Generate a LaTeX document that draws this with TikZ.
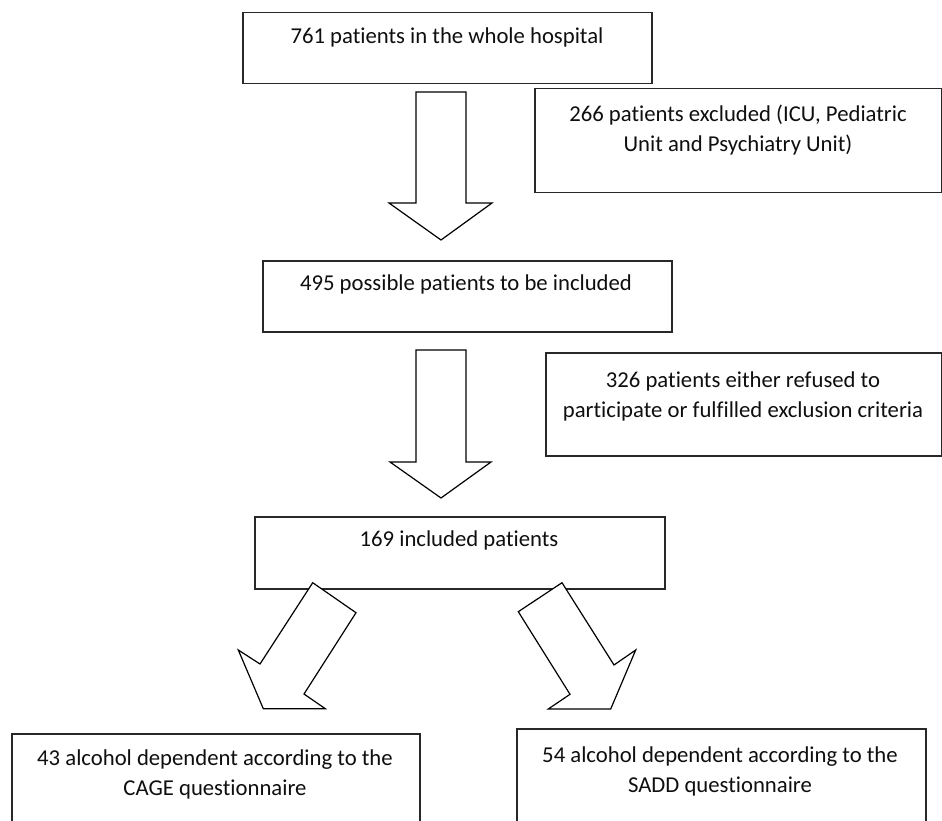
\documentclass[tikz,border=0pt]{standalone}
\usepackage{fontspec}
\setmainfont{Carlito}[RawFeature={-liga;-clig;-dlig;-calt}]
\definecolor{boxline}{RGB}{40,40,40}
\definecolor{txtcol}{RGB}{15,15,15}
\begin{document}
\begin{tikzpicture}[x=1pt,y=-1pt,
  boxr/.style={draw=boxline, line width=1.5pt, fill=white, anchor=north west, inner sep=0pt},
  txt/.style={font=\fontsize{22.7}{30}\selectfont, align=center, inner sep=0pt, text=txtcol},
  bigarrow/.style={draw=black, line width=1.2pt, fill=white, line join=miter}]
\useasboundingbox (0,0) rectangle (942,821);
\clip (0,0) rectangle (942,821);
\fill[white] (0,0) rectangle (942,821);

% boxes
\node[boxr, minimum width=409pt, minimum height=71pt] (b1) at (242,12) {};
\node[boxr, minimum width=407pt, minimum height=104pt] (b2) at (534,88) {};
\node[boxr, minimum width=409pt, minimum height=71pt] (b3) at (262,260) {};
\node[boxr, minimum width=396pt, minimum height=103pt] (b4) at (545,352) {};
\node[boxr, minimum width=410pt, minimum height=72pt] (b5) at (254,516) {};
\node[boxr, minimum width=408pt, minimum height=140pt] (b6) at (11,733) {};
\node[boxr, minimum width=409pt, minimum height=140pt] (b7) at (516,728) {};

% block arrows
\draw[bigarrow] (416,92) -- (466,92) -- (466,203) -- (492,203) -- (441,240)
  -- (389,203) -- (416,203) -- cycle;
\draw[bigarrow] (416,350) -- (466,350) -- (466,462) -- (491,462) -- (441,498)
  -- (390,462) -- (416,462) -- cycle;
\draw[bigarrow] (312.7,582.7) -- (356,612.7) -- (304,694) -- (325.3,708.7)
  -- (263.3,708.7) -- (238.3,650) -- (260,664) -- cycle;
\draw[bigarrow] (562,582.7) -- (518.3,611.7) -- (570,694.3) -- (548.3,709)
  -- (610.7,709) -- (635.7,650) -- (614,665) -- cycle;

% texts
\node[txt] (t1) at (447,37) {761 patients in the whole hospital};
\node[txt] (t2) at (738,130.5) {266 patients excluded (ICU, Pediatric\\Unit and Psychiatry Unit)};
\node[txt] (t3) at (466,284) {495 possible patients to be included};
\node[txt] (t4) at (743,396) {326 patients either refused to\\participate or fulfilled exclusion criteria};
\node[txt] (t5) at (459,540) {169 included patients};
\node[txt] (t6) at (215,774) {43 alcohol dependent according to the\\CAGE questionnaire};
\node[txt] (t7) at (720,771) {54 alcohol dependent according to the\\SADD questionnaire};
\end{tikzpicture}
\end{document}
